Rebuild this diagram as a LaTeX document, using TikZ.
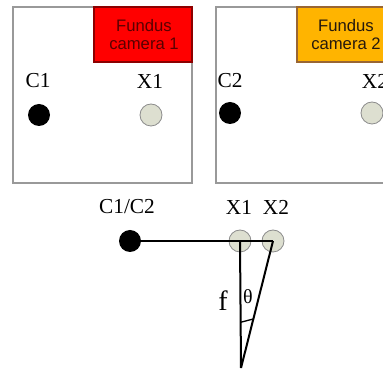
\documentclass[tikz,border=0pt]{standalone}
\usepackage{fontspec}
\setmainfont{Liberation Serif}
\newfontfamily\labelsans{Liberation Sans}
\definecolor{camred}{HTML}{FF0000}
\definecolor{camorange}{HTML}{FFB400}
\definecolor{spotfill}{HTML}{DDDFD0}
\tikzset{
  frame/.style={draw=gray!80,line width=0.8pt},
  tagbox/.style={line width=0.9pt},
  tagtext/.style={font=\labelsans\fontsize{12.5}{13.5}\selectfont,align=center},
  disc/.style={circle,fill=black,inner sep=0pt,minimum size=16.5pt},
  spot/.style={circle,draw=gray!90,fill=spotfill,line width=0.6pt,inner sep=0pt,minimum size=16.5pt},
  lbl/.style={font=\fontsize{16}{18}\selectfont,inner sep=1pt},
  ray/.style={line width=1.5pt}
}
\begin{document}
\begin{tikzpicture}[x=0.75pt,y=-0.75pt]
\useasboundingbox (0,0) rectangle (383,370);
\begin{scope}
\clip (0,0) rectangle (383,370);
% first camera view
\draw[frame] (13,7) rectangle (192,183);
\draw[tagbox,fill=camred,draw=red!55!black] (94,7) rectangle (192,62);
\node[tagtext,text=red!35!black] (tag1) at (144,35) {Fundus\\camera 1};
\node[lbl] (c1lbl) at (38,81) {C1};
\node[disc] (c1) at (39,115) {};
\node[lbl] (x1lbl) at (150,81) {X1};
\node[spot] (x1) at (151,115) {};

% second camera view
\draw[frame] (216,7) rectangle (400,183);
\draw[tagbox,fill=camorange,draw=brown!80!black] (297,7) rectangle (400,62);
\node[tagtext,text=black!80!brown] (tag2) at (346,35) {Fundus\\camera 2};
\node[lbl] (c2lbl) at (230,81) {C2};
\node[disc] (c2) at (230,113) {};
\node[lbl] (x2lbl) at (375,81) {X2};
\node[spot] (x2) at (372,113) {};
\end{scope}

% combined geometry
\node[lbl] (c12lbl) at (127,207) {C1/C2};
\node[disc] (c12) at (130,241) {};
\node[lbl] (xalbl) at (239,207) {X1};
\node[lbl] (xblbl) at (276,207) {X2};
\node[spot] (xa) at (240,241) {};
\node[spot] (xb) at (273,241) {};
\coordinate (apex) at (241,368);

\draw[ray] (c12.center) -- (xb.center);
\draw[ray] (xa.center) -- (apex);
\draw[ray] (xb.center) -- (apex);
\path (apex) -- (xa.center) coordinate[pos=0.36] (m1);
\path (apex) -- (xb.center) coordinate[pos=0.386] (m2);
\draw[line width=1pt] (m1) -- (m2);

\node[lbl,font=\fontsize{21}{23}\selectfont] (flbl) at (223,301) {f};
\node[lbl,font=\fontsize{15}{17}\selectfont] (thlbl) at (248,297) {θ};
\end{tikzpicture}
\end{document}
